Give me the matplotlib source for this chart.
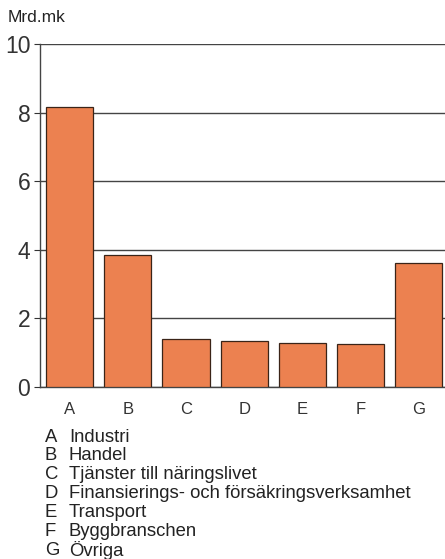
import matplotlib
matplotlib.use("Agg")
import matplotlib.pyplot as plt

categories = ["A", "B", "C", "D", "E", "F", "G"]
values = [8.16, 3.85, 1.40, 1.34, 1.28, 1.25, 3.62]
names = ["Industri", "Handel", "Tjänster till näringslivet",
         "Finansierings- och försäkringsverksamhet", "Transport",
         "Byggbranschen", "Övriga"]
yticks = [0, 2, 4, 6, 8, 10]

plt.rcParams['font.family'] = ['Liberation Sans', 'DejaVu Sans']

fig = plt.figure(figsize=(4.45, 5.59), dpi=100)
ax = fig.add_axes([40/445, (559-387)/559, (448-40)/445, (387-44)/559])

x = list(range(len(categories)))
ax.bar(x, values, width=0.81, color='#EC8150', edgecolor='#3a2418', linewidth=0.9, zorder=3)
ax.set_xlim(-0.507, 6.5)
ax.set_ylim(0, 10)
ax.set_yticks(yticks)
ax.set_yticklabels([str(t) for t in yticks], fontsize=16.5)
ax.set_xticks(x)
ax.set_xticklabels(categories, fontsize=12)
ax.tick_params(axis='x', length=0, pad=11, colors='#333333')
ax.tick_params(axis='y', length=4, width=0.8, pad=3, colors='#333333', direction='out')
ax.yaxis.grid(True, color='#444444', linewidth=1.0, zorder=0)
for s in ['top', 'right']:
    ax.spines[s].set_visible(False)
for s in ['left', 'bottom']:
    ax.spines[s].set_color('#444444')
    ax.spines[s].set_linewidth(1.0)
ax.set_axisbelow(True)

fig.text(8/445, 1 - 18/559, "Mrd.mk", fontsize=12.5, va='center', ha='left', color='#222222')

y0 = 437
dy = 18.9
for i, (c, n) in enumerate(zip(categories, names)):
    yy = 1 - (y0 + i*dy)/559
    fig.text(45/445, yy, c, fontsize=13.3, va='center', ha='left', color='#222222')
    fig.text(69/445, yy, n, fontsize=13.3, va='center', ha='left', color='#222222')

fig.savefig("out.png", dpi=100)
